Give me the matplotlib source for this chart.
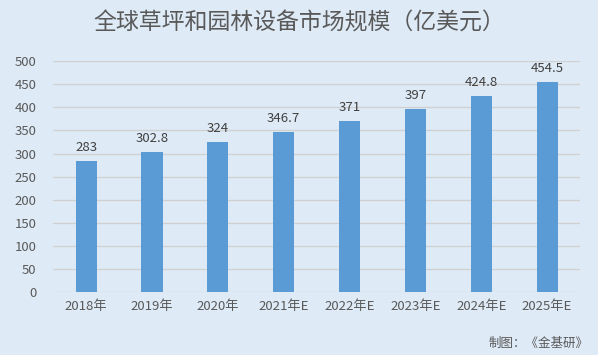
import matplotlib.pyplot as plt

plt.rcParams["font.family"] = ["Noto Sans CJK SC", "DejaVu Sans"]

years = ["2018年", "2019年", "2020年", "2021年E", "2022年E", "2023年E", "2024年E", "2025年E"]
values = [283, 302.8, 324, 346.7, 371, 397, 424.8, 454.5]
value_labels = ["283", "302.8", "324", "346.7", "371", "397", "424.8", "454.5"]

bg = "#DEEAF6"
text_color = "#595959"

fig = plt.figure(figsize=(5.98, 3.55), dpi=100, facecolor=bg)
ax = fig.add_axes([0.089, 0.177, 0.881, 0.651], facecolor=bg)

x = range(len(years))
bars = ax.bar(x, values, width=0.32, color="#5B9BD5", zorder=3)
for xi, v, lab in zip(x, values, value_labels):
    ax.annotate(lab, (xi, v), textcoords="offset points", xytext=(0, 5),
                ha="center", va="bottom", fontsize=9.5, color="#404040")

ax.set_xlim(-0.5, len(years) - 0.5)
ax.set_ylim(0, 500)
ax.set_yticks(range(0, 501, 50))
ax.set_xticks(list(x))
ax.set_xticklabels(years)
ax.tick_params(axis="both", length=0, labelsize=9.5, colors=text_color)
ax.tick_params(axis="y", pad=12)
ax.tick_params(axis="x", pad=6)
ax.grid(axis="y", color="#D0D0D0", linewidth=0.9, zorder=0)
for s in ax.spines.values():
    s.set_visible(False)

fig.text(0.5, 0.935, "全球草坪和园林设备市场规模（亿美元）", ha="center", va="center",
         fontsize=16.5, color=text_color)
fig.text(0.985, 0.015, "制图：《金基研》", ha="right", va="bottom", fontsize=9, color=text_color)

plt.savefig("out.png", dpi=100, facecolor=bg)
